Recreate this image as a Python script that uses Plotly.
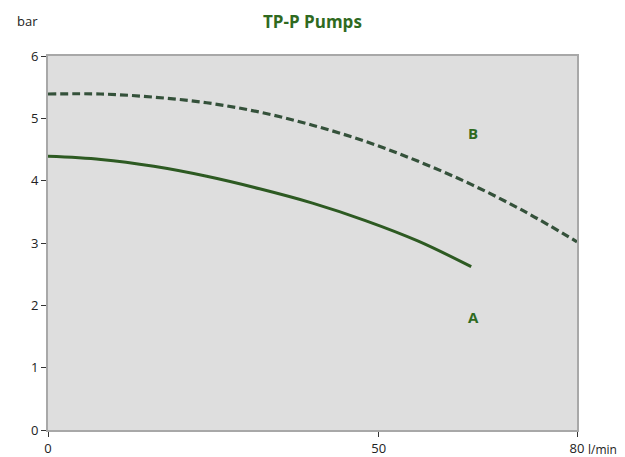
import plotly.graph_objects as go

# Curve B (dashed)
flow_b = [0, 8, 16, 24, 32, 40, 48, 56, 64, 72, 80]
pres_b = [5.39, 5.39, 5.34, 5.25, 5.10, 4.89, 4.63, 4.31, 3.94, 3.51, 3.02]

# Curve A (solid)
flow_a = [0, 8, 16, 24, 32, 40, 48, 56, 64]
pres_a = [4.39, 4.34, 4.23, 4.07, 3.87, 3.64, 3.36, 3.03, 2.62]

x_ticks = [0, 50, 80]
x_tick_text = ["0", "50", "80"]
y_ticks = [0, 1, 2, 3, 4, 5, 6]

label_a = ("A", 64.3, 1.81)
label_b = ("B", 64.3, 4.76)

green = "#2f6a1f"
font = "Open Sans, Noto Sans, sans-serif"
txt_col = "#222222"

fig = go.Figure()
fig.add_trace(go.Scatter(x=flow_b, y=pres_b, mode="lines", line_shape="spline",
                         line=dict(color="#34513a", width=3.2, dash="8px,4px"),
                         showlegend=False))
fig.add_trace(go.Scatter(x=flow_a, y=pres_a, mode="lines", line_shape="spline",
                         line=dict(color="#2d5a22", width=3), showlegend=False))

for txt, lx, ly in (label_a, label_b):
    fig.add_annotation(x=lx, y=ly, text=f"<b>{txt}</b>", showarrow=False,
                       font=dict(family=font, size=15, color=green))

fig.add_annotation(xref="paper", yref="paper", x=0.5, y=1, yshift=35,
                   xanchor="center", yanchor="middle",
                   text="<b>TP-P Pumps</b>", showarrow=False,
                   font=dict(family=font, size=17, color=green))
fig.add_annotation(xref="paper", yref="paper", x=0, y=1, xshift=-33, yshift=35,
                   xanchor="left", yanchor="middle",
                   text="bar", showarrow=False,
                   font=dict(family=font, size=13, color=txt_col))
fig.add_annotation(xref="paper", yref="paper", x=1, y=0, xshift=9, yshift=-9,
                   xanchor="left", yanchor="top", text="l/min", showarrow=False,
                   font=dict(family=font, size=12, color=txt_col))

fig.update_xaxes(range=[0, 80], tickvals=x_ticks, ticktext=x_tick_text,
                 ticks="outside", ticklen=5, tickcolor="#333333",
                 showgrid=False, zeroline=False, showline=True, linecolor="#a8a8a8",
                 linewidth=2, mirror=True, automargin=False,
                 tickfont=dict(family=font, size=13, color=txt_col))
fig.update_yaxes(range=[0, 6], tickvals=y_ticks,
                 ticks="outside", ticklen=5, tickcolor="#333333",
                 showgrid=False, zeroline=False, showline=True, linecolor="#a8a8a8",
                 linewidth=2, mirror=True, automargin=False,
                 tickfont=dict(family=font, size=13, color=txt_col))

fig.update_layout(width=609, height=449, margin=dict(l=40, r=40, t=48, b=27),
                  plot_bgcolor="#dedede", paper_bgcolor="white")

fig.write_html("out.html")
